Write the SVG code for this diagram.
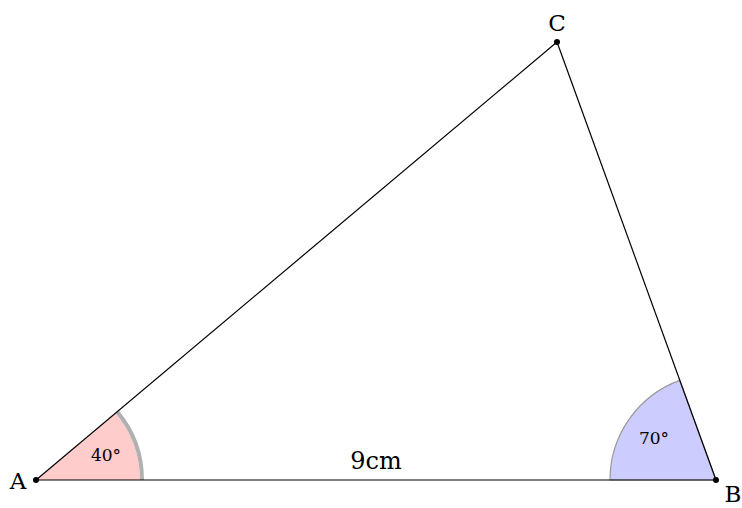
<svg xmlns="http://www.w3.org/2000/svg" width="742" height="508" viewBox="0 0 742 508">
<style>
text{font-family:"DejaVu Serif","Liberation Serif",serif;fill:#000}
.lbl{font-size:23px}
.ang{font-size:17px}
.edge{stroke:#000;stroke-width:1.2;fill:none}
.pt{fill:#000}
</style>
<rect width="742" height="508" fill="#fff"/>
<g id="angleA">
<path d="M36,480 L140,480 A104,104 0 0 0 115.67,413.15 Z" fill="#ffcccc"/>
<path d="M142,480 A106,106 0 0 0 117.2,411.9" fill="none" stroke="#b0b0b0" stroke-width="4"/>
<text class="ang" x="106" y="461" text-anchor="middle">40°</text>
</g>
<g id="angleB">
<path d="M716,480 L610,480 A106,106 0 0 1 679.75,380.4 Z" fill="#ccccff" stroke="#999" stroke-width="1.2"/>
<text class="ang" x="654" y="444" text-anchor="middle">70°</text>
</g>
<g id="connectors">
<line class="edge" x1="36" y1="480" x2="716" y2="480"/>
<line class="edge" x1="36" y1="480" x2="557" y2="42"/>
<line class="edge" x1="716" y1="480" x2="557" y2="42"/>
<text x="376" y="469" font-size="24" text-anchor="middle">9cm</text>
</g>
<g id="A"><circle class="pt" cx="36" cy="480" r="3"/><text class="lbl" x="18" y="489" text-anchor="middle">A</text></g>
<g id="B"><circle class="pt" cx="716" cy="480" r="3"/><text class="lbl" x="733" y="502" text-anchor="middle">B</text></g>
<g id="C"><circle class="pt" cx="557" cy="42" r="3"/><text class="lbl" x="557" y="31" text-anchor="middle">C</text></g>
</svg>
